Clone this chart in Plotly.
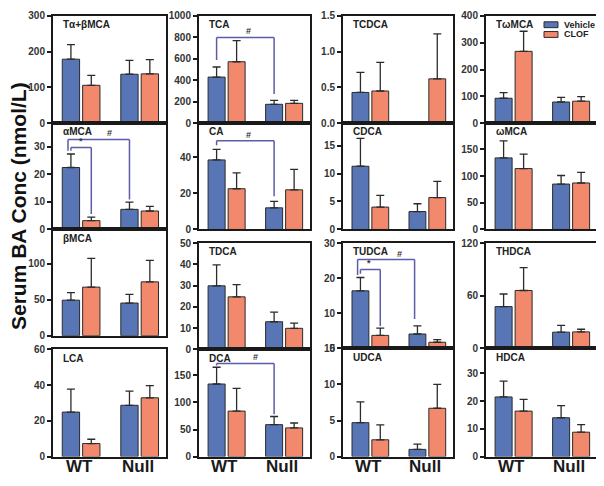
import plotly.graph_objects as go

# bile acid panels, row by row (4 x 4)
acids = ["Tα+βMCA", "TCA", "TCDCA", "TωMCA",
         "αMCA", "CA", "CDCA", "ωMCA",
         "βMCA", "TDCA", "TUDCA", "THDCA",
         "LCA", "DCA", "UDCA", "HDCA"]
groups = ["WT", "Null"]

# mean and upper error (SEM) for [WT, Null]
vehicle_mean = [[179, 137], [430, 176], [0.43, None], [93, 79],
                [22.5, 7.3], [38.6, 12.0], [11.3, 3.2], [134, 85],
                [49.5, 45.5], [29.9, 13.0], [16.4, 4.1], [47.6, 18.5],
                [24.9, 28.7], [134, 59], [4.7, 1.0], [21.5, 14.0]]
vehicle_sem = [[41, 39], [94, 36], [0.28, 0], [21, 17],
               [4.9, 2.6], [5.9, 3.6], [5.0, 1.4], [32, 16],
               [10.5, 12.2], [9.9, 4.5], [3.8, 2.3], [14.4, 7.7],
               [12.9, 7.9], [31, 15], [2.9, 0.74], [5.7, 4.4]]
clof_mean = [[106, 138], [573, 185], [0.45, 0.62], [268, 82],
             [3.2, 6.7], [22.6, 22.0], [4.0, 5.7], [114, 87],
             [67.7, 75], [24.7, 9.9], [3.7, 1.75], [66, 18.8],
             [7.3, 32.9], [84, 53], [2.33, 6.7], [16.4, 8.8]]
clof_sem = [[28, 40], [197, 27], [0.40, 0.63], [75, 17],
            [1.3, 1.7], [8.8, 11.4], [2.1, 2.9], [27, 20],
            [40, 30], [5.8, 2.4], [2.1, 0.75], [26, 3.0],
            [2.4, 6.8], [42, 9], [2.07, 3.3], [4.2, 2.7]]

# axis tops and tick steps
y_max = [300, 1000, 1.5, 400,
         38.6, 59, 19, 199,
         148, 50, 30, 120,
         60, 198, 15, 39]
y_step = [100, 200, 0.5, 100,
          10, 20, 5, 50,
          50, 10, 10, 60,
          20, 50, 5, 10]

# significance brackets: panel, from bar, to bar, top, left leg end, right leg end, label, label pos
brackets = [
    (1, ("WT", 0), ("Null", 0), 800, 590, 273, "#", 0.55),
    (4, ("WT", 0), ("WT", 1), 29.8, 28.6, 5.6, "*", 0.5),
    (4, ("WT", 0), ("Null", 0), 32.7, 28.6, 10.9, "#", 0.68),
    (5, ("WT", 0), ("Null", 0), 49.3, 46.8, 18.5, "#", 0.55),
    (10, ("WT", 0), ("WT", 1), 22.5, 21.3, 6.4, "*", 0.45),
    (10, ("WT", 0), ("Null", 0), 25.3, 20.9, 8.4, "#", 0.74),
    (13, ("WT", 0), ("Null", 0), 172, 168, 78, "#", 0.67),
]

BLUE = "#5876B6"
SALMON = "#F2896C"
EDGE = "#2b2b2b"
BRACKET = "#5c5ca8"
FONT = "Liberation Sans, Arial, sans-serif"

# the page body adds an 8px margin, so the figure is drawn 8px smaller and shifted
OFF = 8
W, H = 604 - OFF, 486 - OFF


def px(x):
    return (x - OFF) / W


def py(y):
    return 1 - (y - OFF) / H


# panel boxes in page pixels
col_x = [(53, 166), (199, 310), (343, 453), (486, 597)]
row_y = [
    [(10, 120), (120, 229), (229, 338), (352, 462)],
    [(10, 120), (120, 229), (243, 352), (352, 462)],
    [(10, 120), (120, 229), (243, 351), (351, 462)],
    [(10, 120), (120, 229), (243, 351), (351, 462)],
]

BARGAP = 0.304
GROUPGAP = 0.15
slot = (1 - BARGAP) / 2

fig = go.Figure()
layout = {}
annotations = []
shapes = []

for i, name in enumerate(acids):
    r, c = divmod(i, 4)
    n = i + 1
    xa = "x" if n == 1 else f"x{n}"
    ya = "y" if n == 1 else f"y{n}"
    for mean, sem, color, label in [(vehicle_mean[i], vehicle_sem[i], BLUE, "Vehicle"),
                                    (clof_mean[i], clof_sem[i], SALMON, "CLOF")]:
        fig.add_trace(go.Bar(
            x=groups, y=mean, name=label, showlegend=False,
            marker=dict(color=color, line=dict(color=EDGE, width=1)),
            error_y=dict(type="data", array=sem, arrayminus=[0, 0], symmetric=False,
                         color=EDGE, thickness=1.3, width=4),
            xaxis=xa, yaxis=ya))

    x0, x1 = col_x[c]
    y0, y1 = row_y[c][r]
    layout[f"xaxis{n}"] = dict(
        domain=[px(x0), px(x1)], anchor=ya, range=[-0.48, 1.45],
        showline=True, mirror=True, linecolor="#1a1a1a", linewidth=2,
        ticks="", showticklabels=False, showgrid=False, zeroline=False)
    layout[f"yaxis{n}"] = dict(
        domain=[py(y1), py(y0)], anchor=xa, range=[0, y_max[i]],
        tick0=0, dtick=y_step[i], tickformat=".1f" if y_step[i] < 1 else "",
        ticks="outside", ticklen=4, tickwidth=1.5, tickcolor="#1a1a1a",
        showline=True, mirror=True, linecolor="#1a1a1a", linewidth=2,
        showgrid=False, zeroline=False,
        tickfont=dict(family=FONT, size=10, color="#333", weight="bold"))

    annotations.append(dict(
        text=name, xref="paper", yref="paper", x=px(x0 + 8), y=py(y0 + 9),
        xanchor="left", yanchor="middle", showarrow=False,
        font=dict(family=FONT, size=10, color="#222", weight="bold")))

    # group labels under the bottom row
    if r == 3:
        for g in groups:
            annotations.append(dict(
                text=g, xref=xa, yref="paper", x=g, y=py(472), xshift=-2,
                xanchor="center", yanchor="middle", showarrow=False,
                font=dict(family=FONT, size=17, color="#1a1a1a", weight="bold")))


def bar_pos(key):
    g, k = key
    return groups.index(g) + (k - 0.5) * slot


for p, a, b, top, lend, rend, lab, frac in brackets:
    xa = "x" if p == 0 else f"x{p + 1}"
    ya = "y" if p == 0 else f"y{p + 1}"
    xl = bar_pos(a) - (0.05 if lab == "#" and p in (4, 10) else 0)
    xr = bar_pos(b) - (0.05 if p == 10 and lab == "#" else 0)
    for (sx0, sy0, sx1, sy1) in [(xl, top, xr, top), (xl, top, xl, lend), (xr, top, xr, rend)]:
        shapes.append(dict(type="line", xref=xa, yref=ya, x0=sx0, y0=sy0, x1=sx1, y1=sy1,
                           line=dict(color=BRACKET, width=1.5)))
    annotations.append(dict(
        text=lab, xref=xa, yref=ya, x=xl + (xr - xl) * frac, y=top, yanchor="bottom",
        showarrow=False, yshift=-1,
        font=dict(family=FONT, size=9, color="#333", weight="bold")))

# legend drawn inside the TωMCA panel
for k, (label, color) in enumerate([("Vehicle", BLUE), ("CLOF", SALMON)]):
    yc = 19 + 10 * k
    shapes.append(dict(type="rect", xref="paper", yref="paper",
                       x0=px(544), x1=px(558), y0=py(yc + 3), y1=py(yc - 3),
                       fillcolor=color, line=dict(color=EDGE, width=1)))
    annotations.append(dict(
        text=label, xref="paper", yref="paper", x=px(562), y=py(yc),
        xanchor="left", yanchor="middle", showarrow=False,
        font=dict(family=FONT, size=9, color="#222", weight="bold")))

annotations.append(dict(
    text="Serum BA Conc (nmol/L)", xref="paper", yref="paper", x=px(18), y=py(205),
    textangle=-90, showarrow=False, xanchor="center", yanchor="middle",
    font=dict(family=FONT, size=21, color="#111", weight="bold")))

fig.update_layout(
    width=W, height=H, margin=dict(l=0, r=0, t=0, b=0),
    paper_bgcolor="white", plot_bgcolor="white",
    barmode="group", bargap=BARGAP, bargroupgap=GROUPGAP,
    annotations=annotations, shapes=shapes, **layout)

fig.write_html("out.html")
